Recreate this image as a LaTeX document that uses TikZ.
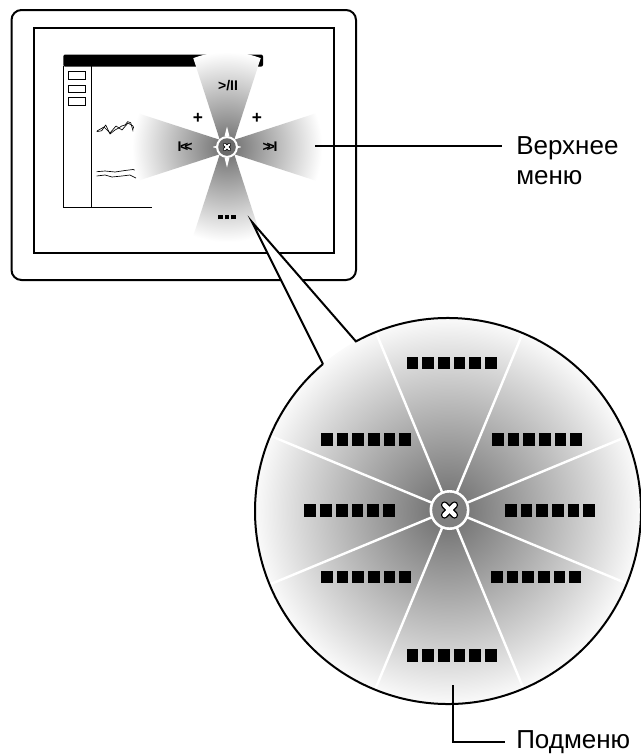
\documentclass[tikz,border=0pt]{standalone}
\usepackage{fontspec}
\setmainfont{Liberation Sans}
\usetikzlibrary{calc}
\newcommand\blk{\rule{8.8pt}{9.6pt}}
\newcommand\sqsix{\blk\hspace{3.0pt}\blk\hspace{3.0pt}\blk\hspace{3.0pt}\blk\hspace{3.0pt}\blk\hspace{3.0pt}\blk}
\newcommand\smblk{\rule{3.6pt}{3.6pt}}
\newcommand\sqthree{\smblk\hspace{1.0pt}\smblk\hspace{1.0pt}\smblk}
\definecolor{fan0}{gray}{0.42}
\definecolor{fan1}{gray}{1}
\definecolor{big0}{gray}{0.42}
\definecolor{big1}{gray}{0.84}
\definecolor{big2}{gray}{0.98}
\definecolor{hubgray}{gray}{0.50}
\definecolor{fanhub}{gray}{0.42}
\pgfdeclareradialshading{fansh}{\pgfpoint{0bp}{0bp}}{color(0bp)=(fan0); color(25bp)=(fan1); color(50bp)=(fan1)}
\pgfdeclareradialshading{bigsh}{\pgfpoint{0bp}{0bp}}{color(0bp)=(big0); color(19bp)=(big1); color(25bp)=(big2); color(50bp)=(big2)}
\tikzset{
  frame/.style={line width=1.5pt},
  thin/.style={line width=0.75pt},
  scrib/.style={line width=0.5pt, line join=round},
  lbl/.style={font=\fontsize{19.5}{22.5}\selectfont, inner sep=0pt, align=left},
  icon/.style={font=\fontsize{10.5}{10.5}\selectfont\bfseries, inner sep=0pt},
  plus/.style={font=\fontsize{13}{13}\selectfont\bfseries, inner sep=0pt},
  sq/.style={inner sep=0pt},
  divider/.style={white, line width=1.8pt},
  xout/.style={black, line cap=round},
  xin/.style={white, line cap=round}
}
\begin{document}
\begin{tikzpicture}[x=0.75pt,y=-0.75pt]
\useasboundingbox (0,0) rectangle (641,754);
% tablet
\draw[frame, fill=white, rounded corners=7.5pt] (11.5,10) rectangle (356,280);
\draw[frame] (33.5,27.5) rectangle (334,252.5);
% window
\fill[black, rounded corners=1.5pt] (63.3,54.5) rectangle (263,66.7);
\draw[thin] (63.3,66) -- (63.3,207) -- (152,207);
\draw[thin] (91.7,66) -- (91.7,207);
\draw[thin] (68.5,71.7) rectangle (85.7,79);
\draw[thin] (68.5,85) rectangle (85.7,92.3);
\draw[thin] (68.5,97.7) rectangle (85.7,105);
\draw[scrib] (96.7,131.7) -- (101.7,130.7) -- (105.7,125) -- (110,134) -- (115,130) -- (118.3,128.3) -- (121.7,126) -- (125,125) -- (127.7,121.7) -- (130.7,122.7) -- (133.3,131.7);
\draw[scrib] (97,131) -- (104,127) -- (110,133) -- (116,126) -- (122,130) -- (128,123) -- (133,126) -- (136,135);
\draw[scrib] (96.7,171.7) -- (105,171) -- (115,172) -- (125,170.5) -- (133,169.5) -- (138,171);
\draw[scrib] (96.7,176) -- (105,175) -- (112,177) -- (122,176) -- (130,175) -- (136,178);
% fan menu
\coordinate (fanc) at (227,147);
\begin{scope}
  \clip (227,162) -- (191.5,52.6) -- (262.5,52.6) -- cycle
        (227,132) -- (191.5,241.4) -- (262.5,241.4) -- cycle
        (242,147) -- (132.6,111.5) -- (132.6,182.5) -- cycle
        (212,147) -- (321.4,111.5) -- (321.4,182.5) -- cycle;
  \shade[shading=fansh] (fanc) circle (95);
\end{scope}
\fill[white] (fanc) circle (11);
\fill[fanhub] (fanc) circle (8.8);
\fill[white] (224.6,136) -- (229.4,136) -- (227,126.5) -- cycle;
\fill[white] (224.6,158) -- (229.4,158) -- (227,167.5) -- cycle;
\draw[xout, line width=2.7pt] (fanc) ++(-2.4,-2.4) -- ++(4.8,4.8);
\draw[xout, line width=2.7pt] (fanc) ++(-2.4,2.4) -- ++(4.8,-4.8);
\draw[xin, line width=1.4pt] (fanc) ++(-2.4,-2.4) -- ++(4.8,4.8);
\draw[xin, line width=1.4pt] (fanc) ++(-2.4,2.4) -- ++(4.8,-4.8);
\node[icon] (play) at (228,86) {>/II};
\node[icon] (prev) at (185,147) {I\kern-1pt<\kern-3pt<};
\node[icon] (next) at (270,147) {>\kern-3pt>\kern-1ptI};
\node[sq] (more) at (227,217) {\sqthree};
\node[plus] (plusl) at (198,118) {+};
\node[plus] (plusr) at (257,118) {+};
% callout
\coordinate (bigc) at (448,511);
\coordinate (hub) at (449.5,510);
\coordinate (tip) at (252,222);
\path (bigc) ++(229.6:193) coordinate (ca);
\path (bigc) ++(241.5:193) coordinate (cb);
\fill[white] (ca) -- (tip) -- (cb) -- cycle;
\shade[shading=bigsh] (bigc) circle (193);
\begin{scope}
  \clip (bigc) circle (192);
  \foreach \a in {22.5,67.5,112.5,157.5,202.5,247.5,292.5,337.5}
    \draw[divider] (hub) -- ++(\a:230);
\end{scope}
\fill[white] (hub) circle (20);
\fill[hubgray] (hub) circle (17.3);
\draw[xout, line width=5.4pt] (hub) ++(-5,-5) -- ++(10,10);
\draw[xout, line width=5.4pt] (hub) ++(-5,5) -- ++(10,-10);
\draw[xin, line width=3.4pt] (hub) ++(-5,-5) -- ++(10,10);
\draw[xin, line width=3.4pt] (hub) ++(-5,5) -- ++(10,-10);
\node[sq] (s1) at (451.7,363) {\sqsix};
\node[sq] (s2) at (366,439.3) {\sqsix};
\node[sq] (s3) at (537,439.3) {\sqsix};
\node[sq] (s4) at (349.5,510.3) {\sqsix};
\node[sq] (s5) at (550,510.3) {\sqsix};
\node[sq] (s6) at (366,577) {\sqsix};
\node[sq] (s7) at (536,577) {\sqsix};
\node[sq] (s8) at (451.7,655.8) {\sqsix};
\draw[frame, line join=miter] (ca) -- (tip) -- (cb) arc[start angle=241.5, end angle=589.6, radius=193];
% labels
\coordinate (fanR) at (315,146);
\coordinate (topend) at (502,146);
\draw[frame] (fanR) -- (topend);
\node[lbl, anchor=north west] (toplbl) at (516,136) {Верхнее\\меню};
\coordinate (subpt) at (453,685);
\coordinate (subend) at (505,742);
\draw[frame] (subpt) |- (subend);
\node[lbl, anchor=base west] (sublbl) at (516,748.5) {Подменю};
\end{tikzpicture}
\end{document}
